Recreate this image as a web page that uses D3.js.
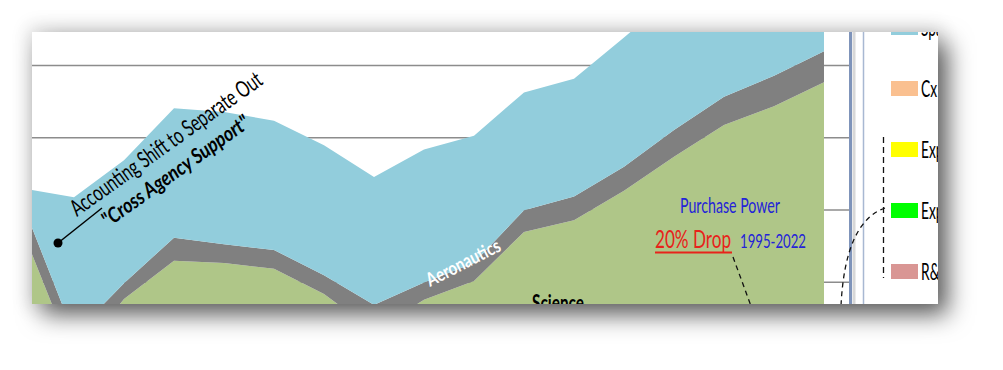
<!DOCTYPE html>
<html>
<head>
<meta charset="utf-8">
<script src="https://cdn.jsdelivr.net/npm/d3@7/dist/d3.min.js"></script>
<style>
  body { margin: 0; background: #fff; }
  text { font-family: Lato, "Open Sans", "DejaVu Sans", sans-serif; }
</style>
</head>
<body>
<div id="chart"></div>
<script>
// values, $B per year (stacked: science at the bottom)
var years = [2006, 2007, 2008, 2009, 2010, 2011, 2012, 2013, 2014, 2015, 2016, 2017, 2018, 2019, 2020, 2021, 2022];
var science = [5.66, 3.92, 4.76, 5.29, 5.26, 5.18, 4.83, 4.32, 4.75, 5.01, 5.69, 5.85, 6.26, 6.73, 7.17, 7.43, 7.76];
var aeronautics = [0.37, 0.35, 0.22, 0.32, 0.26, 0.26, 0.26, 0.36, 0.24, 0.25, 0.30, 0.33, 0.33, 0.37, 0.39, 0.42, 0.43];
var spaceOps = [0.26, 1.90, 1.70, 1.79, 1.83, 1.79, 1.80, 1.77, 1.84, 1.76, 1.63, 1.63, 1.79, 1.87, 1.85, 1.85, 1.85];
var gridValues = [5, 6, 7, 8];
var legendLabels = ["Space Operations", "Cx Constellation", "Exploration Systems", "Exploration Technology", "R&D Other"];
var legendColors = ["#92cddc", "#fac090", "#ffff00", "#00ff00", "#d99694"];

var W = 1003, H = 370;
var panel = { x: 32, y: 32, w: 906, h: 272 };
var plotRight = 849;

var svg = d3.select("#chart")
  .append("svg")
  .attr("width", W)
  .attr("height", H);

var defs = svg.append("defs");

// drop shadow behind the cut-out panel
var sh = defs.append("filter").attr("id", "shadow")
  .attr("x", "-10%").attr("y", "-30%").attr("width", "125%").attr("height", "170%");
sh.append("feDropShadow")
  .attr("dx", 10).attr("dy", 11).attr("stdDeviation", 12)
  .attr("flood-color", "#000").attr("flood-opacity", 0.6);

var glow = defs.append("filter").attr("id", "glow")
  .attr("x", "-10%").attr("y", "-30%").attr("width", "120%").attr("height", "160%");
glow.append("feGaussianBlur").attr("stdDeviation", 9);

defs.append("clipPath").attr("id", "panelClip")
  .append("rect")
  .attr("x", panel.x).attr("y", panel.y)
  .attr("width", panel.w).attr("height", panel.h);

defs.append("clipPath").attr("id", "plotClip")
  .append("rect")
  .attr("x", panel.x).attr("y", panel.y)
  .attr("width", plotRight - panel.x).attr("height", panel.h);

svg.append("rect")
  .attr("x", panel.x - 4).attr("y", panel.y - 6)
  .attr("width", panel.w + 8).attr("height", panel.h + 10)
  .attr("fill", "#000").attr("opacity", 0.12)
  .attr("filter", "url(#glow)");

svg.append("rect")
  .attr("x", panel.x).attr("y", panel.y)
  .attr("width", panel.w).attr("height", panel.h)
  .attr("fill", "#fff")
  .attr("filter", "url(#shadow)");

var g = svg.append("g").attr("clip-path", "url(#panelClip)");

// scales
var x = d3.scaleLinear()
  .domain([2006, 2022])
  .range([24, 824]);

var y = d3.scaleLinear()
  .domain([0, 8])
  .range([643, 65]);

// gridlines
var grid = g.append("g")
  .attr("transform", "translate(" + panel.x + ",0)")
  .call(d3.axisRight(y).tickValues(gridValues).tickSize(plotRight - panel.x).tickFormat(""));
grid.select(".domain").remove();
grid.selectAll(".tick line").attr("stroke", "#8c8c8c").attr("stroke-width", 1.6);

// stacked areas
var rows = years.map(function (yr, i) {
  return { year: yr, science: science[i], aeronautics: aeronautics[i], spaceOps: spaceOps[i] };
});
var keys = ["science", "aeronautics", "spaceOps"];
var color = d3.scaleOrdinal()
  .domain(keys)
  .range(["#afc688", "#808080", "#92cddc"]);

var stackedData = d3.stack().keys(keys)(rows);

var area = d3.area()
  .x(function (d) { return x(d.data.year); })
  .y0(function (d) { return y(d[0]); })
  .y1(function (d) { return y(d[1]); });

g.append("g")
  .attr("clip-path", "url(#plotClip)")
  .selectAll("path")
  .data(stackedData)
  .enter().append("path")
  .attr("fill", function (d) { return color(d.key); })
  .attr("d", area);

// plot border and legend frame
g.append("line")
  .attr("x1", 850.5).attr("x2", 850.5).attr("y1", panel.y).attr("y2", panel.y + panel.h)
  .attr("stroke", "#7f94ba").attr("stroke-width", 3);
g.append("line")
  .attr("x1", 854).attr("x2", 854).attr("y1", panel.y).attr("y2", panel.y + panel.h)
  .attr("stroke", "#d8d8d8").attr("stroke-width", 3);
g.append("line")
  .attr("x1", 863.5).attr("x2", 863.5).attr("y1", panel.y).attr("y2", panel.y + panel.h)
  .attr("stroke", "#a8b8d2").attr("stroke-width", 1.5);

// legend
var legend = g.append("g");
legend.selectAll("rect")
  .data(legendLabels)
  .enter().append("rect")
  .attr("x", 891)
  .attr("y", function (d, i) { return 20 + i * 61; })
  .attr("width", 27)
  .attr("height", 15)
  .attr("fill", function (d, i) { return legendColors[i]; });
legend.selectAll("text")
  .data(legendLabels)
  .enter().append("text")
  .attr("transform", function (d, i) { return "translate(921," + (36 + i * 61) + ") scale(0.6,1)"; })
  .attr("font-size", 23)
  .attr("fill", "#000")
  .text(function (d) { return d; });

// dashed connectors
g.append("path")
  .attr("d", "M885,208 Q845,222 841,306")
  .attr("fill", "none").attr("stroke", "#111").attr("stroke-width", 1.3)
  .attr("stroke-dasharray", "5,4");
g.append("line")
  .attr("x1", 883.5).attr("x2", 883.5).attr("y1", 137).attr("y2", 278)
  .attr("stroke", "#111").attr("stroke-width", 1.3)
  .attr("stroke-dasharray", "6,4");
g.append("line")
  .attr("x1", 733).attr("y1", 257).attr("x2", 751).attr("y2", 306)
  .attr("stroke", "#111").attr("stroke-width", 1.3)
  .attr("stroke-dasharray", "5,4");

// annotations
g.append("circle").attr("cx", 58).attr("cy", 243).attr("r", 4.5).attr("fill", "#000");
g.append("line")
  .attr("x1", 58).attr("y1", 243).attr("x2", 102).attr("y2", 208)
  .attr("stroke", "#000").attr("stroke-width", 1.5);

g.append("text")
  .attr("transform", "translate(77,217) rotate(-35.5)")
  .attr("font-size", 23)
  .attr("textLength", 230).attr("lengthAdjust", "spacingAndGlyphs")
  .attr("fill", "#000")
  .text("Accounting Shift to Separate Out");

g.append("text")
  .attr("transform", "translate(108,228) rotate(-35.5)")
  .attr("font-size", 21)
  .attr("font-weight", "bold").attr("font-style", "italic")
  .attr("textLength", 176).attr("lengthAdjust", "spacingAndGlyphs")
  .attr("fill", "#000")
  .text("\"Cross Agency Support\"");

g.append("text")
  .attr("transform", "translate(430,287) rotate(-27)")
  .attr("font-size", 19)
  .attr("font-weight", "bold")
  .attr("textLength", 81).attr("lengthAdjust", "spacingAndGlyphs")
  .attr("fill", "#fff")
  .text("Aeronautics");

g.append("text")
  .attr("x", 532).attr("y", 311)
  .attr("font-size", 23)
  .attr("font-weight", "bold")
  .attr("textLength", 52).attr("lengthAdjust", "spacingAndGlyphs")
  .attr("fill", "#000")
  .text("Science");

g.append("text")
  .attr("x", 680).attr("y", 213)
  .attr("font-size", 22)
  .attr("textLength", 100).attr("lengthAdjust", "spacingAndGlyphs")
  .attr("fill", "#2323d8")
  .text("Purchase Power");

g.append("text")
  .attr("x", 655).attr("y", 248)
  .attr("font-size", 25)
  .attr("textLength", 76).attr("lengthAdjust", "spacingAndGlyphs")
  .attr("fill", "#e8231a")
  .text("20% Drop");
g.append("line")
  .attr("x1", 655).attr("x2", 732).attr("y1", 252.5).attr("y2", 252.5)
  .attr("stroke", "#e8231a").attr("stroke-width", 2);

g.append("text")
  .attr("x", 740).attr("y", 248)
  .attr("font-size", 20)
  .attr("textLength", 66).attr("lengthAdjust", "spacingAndGlyphs")
  .attr("fill", "#2323d8")
  .text("1995-2022");
</script>
</body>
</html>
